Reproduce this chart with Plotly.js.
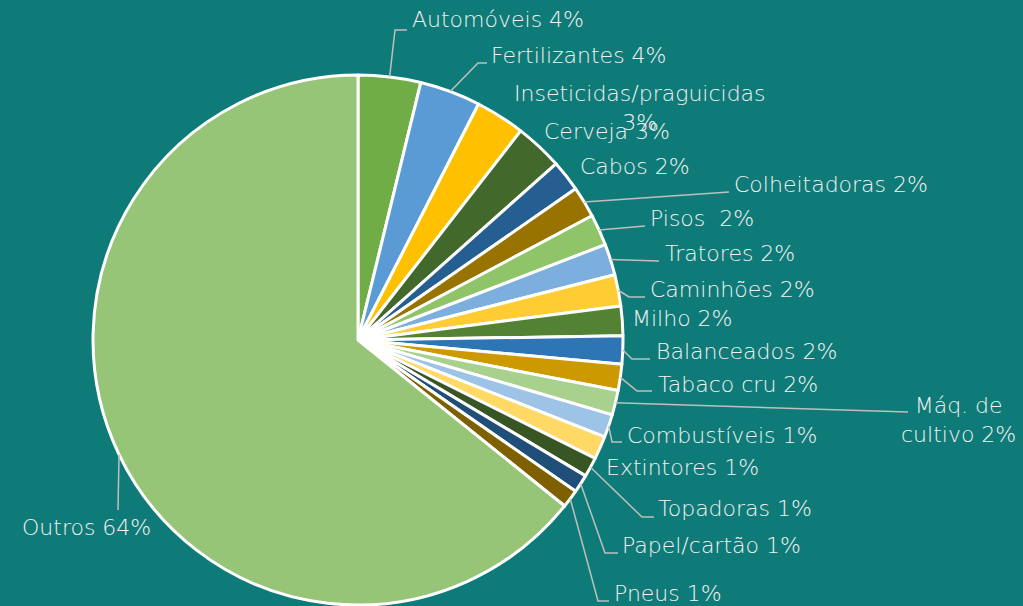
<!DOCTYPE html>
<html>
<head>
<meta charset="utf-8">
<script src="https://cdn.plot.ly/plotly-3.0.1.min.js"></script>
<style>
  html, body { margin: 0; padding: 0; background: #0f7b78; }
  #chart { width: 1023px; height: 606px; }
</style>
</head>
<body>
<div id="chart"></div>
<script>
const W = 1023;
const H = 606;

// slices, clockwise from 12 o'clock
const labels = [
  "Automóveis", "Fertilizantes", "Inseticidas/praguicidas", "Cerveja", "Cabos",
  "Colheitadoras", "Pisos ", "Tratores", "Caminhões", "Milho", "Balanceados",
  "Tabaco cru", "Máq. de cultivo", "Combustíveis", "Extintores", "Topadoras",
  "Papel/cartão", "Pneus", "Outros"
];
const values = [
  3.8, 3.7, 3.0, 2.9, 1.9, 1.9, 1.9, 1.9, 1.9, 1.8, 1.7,
  1.6, 1.5, 1.4, 1.4, 1.2, 1.1, 1.1, 64.1
];
const shown = [
  "4%", "4%", "3%", "3%", "2%", "2%", "2%", "2%", "2%", "2%", "2%",
  "2%", "2%", "1%", "1%", "1%", "1%", "1%", "64%"
];
const colors = [
  "#70ad47", "#5b9bd5", "#ffc000", "#43682b", "#255e91", "#997300",
  "#8fc468", "#7cafdd", "#ffcd33", "#548235", "#2e75b6", "#cc9a00",
  "#a9d18e", "#9dc3e6", "#ffd966", "#375623", "#1f4e79", "#7f6000",
  "#97c577"
];

// label placement in pixels: text anchor point, leader line bends, line break
const labelLayout = [
  { x: 410, y: 20, anchor: "left", bends: [[395, 30], [407, 30]] },
  { x: 489, y: 55, anchor: "left", bends: [[478, 63], [487, 63]] },
  { x: 640, y: 108, anchor: "center", bends: null, wrap: "Inseticidas/praguicidas<br>" },
  { x: 542, y: 131, anchor: "left", bends: null },
  { x: 578, y: 166, anchor: "left", bends: null },
  { x: 732, y: 185, anchor: "left", bends: [[729, 192]] },
  { x: 648, y: 218, anchor: "left", bends: [[645, 226]] },
  { x: 663, y: 253, anchor: "left", bends: [[659, 261]] },
  { x: 648, y: 289, anchor: "left", bends: [[629, 297], [645, 297]] },
  { x: 630, y: 318, anchor: "left", bends: null },
  { x: 654, y: 351, anchor: "left", bends: [[632, 359], [650, 359]] },
  { x: 656, y: 384, anchor: "left", bends: [[637, 391], [652, 391]] },
  { x: 958, y: 420, anchor: "center", bends: [[908, 412]], wrap: "Máq. de<br>cultivo " },
  { x: 625, y: 435, anchor: "left", bends: [[612, 442], [622, 442]] },
  { x: 604, y: 467, anchor: "left", bends: null },
  { x: 656, y: 508, anchor: "left", bends: [[642, 517], [654, 517]] },
  { x: 620, y: 545, anchor: "left", bends: [[605, 553], [618, 553]] },
  { x: 612, y: 593, anchor: "left", bends: [[598, 601], [609, 601]] },
  { x: 86, y: 527, anchor: "center", bends: [[118, 510]] }
];

// pie geometry (pixels)
const cx = 358, cy = 340, R = 265;

function px(x) { return x / W; }
function py(y) { return 1 - y / H; }

const total = values.reduce((a, b) => a + b, 0);
let cum = 0;
const shapes = [];
const annotations = [];

values.forEach((v, i) => {
  const mid = (cum + v / 2) / total * 2 * Math.PI;
  cum += v;
  const lay = labelLayout[i];
  const text = lay.wrap ? lay.wrap + shown[i] : labels[i] + " " + shown[i];
  annotations.push({
    text: text,
    x: px(lay.x),
    y: py(lay.y),
    xref: "paper",
    yref: "paper",
    xanchor: lay.anchor,
    yanchor: "middle",
    align: "center",
    showarrow: false,
    font: { family: "DejaVu Sans", size: 22, color: "#f2f2f2", weight: 200 }
  });
  // leader line from the slice's outer edge to its label
  if (lay.bends) {
    const ex = cx + R * Math.sin(mid);
    const ey = cy - R * Math.cos(mid);
    let path = "M " + px(ex) + " " + py(ey);
    lay.bends.forEach((p) => {
      path += " L " + px(p[0]) + " " + py(p[1]);
    });
    shapes.push({
      type: "path",
      xref: "paper",
      yref: "paper",
      path: path,
      line: { color: "#bfbfbf", width: 1.5 }
    });
  }
});

const trace = {
  type: "pie",
  labels: labels,
  values: values,
  sort: false,
  direction: "clockwise",
  rotation: 0,
  textinfo: "none",
  hoverinfo: "label+percent",
  marker: { colors: colors, line: { color: "#ffffff", width: 3 } },
  domain: {
    x: [px(cx - R), px(cx + R)],
    y: [py(cy + R), py(cy - R)]
  },
  showlegend: false
};

const layout = {
  width: W,
  height: H,
  margin: { l: 0, r: 0, t: 0, b: 0 },
  paper_bgcolor: "#0f7b78",
  plot_bgcolor: "#0f7b78",
  showlegend: false,
  shapes: shapes,
  annotations: annotations
};

Plotly.newPlot("chart", [trace], layout, { displayModeBar: false });
</script>
</body>
</html>
